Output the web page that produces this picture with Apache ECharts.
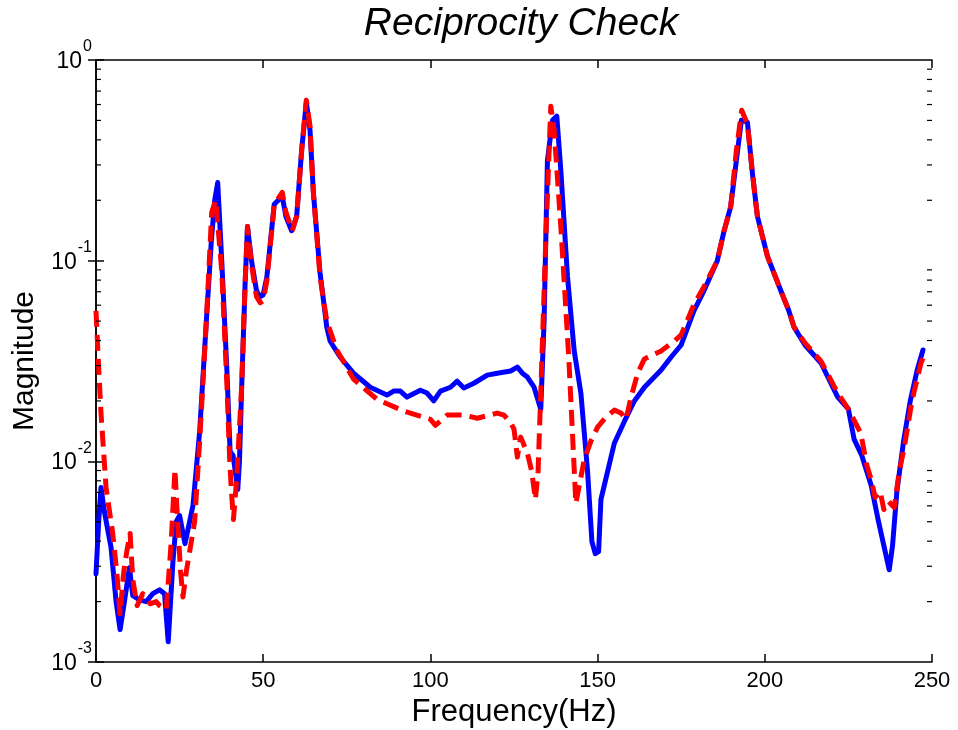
<!DOCTYPE html>
<html>
<head>
<meta charset="utf-8">
<script src="https://cdn.jsdelivr.net/npm/echarts@6/dist/echarts.min.js"></script>
<style>
  html, body { margin: 0; padding: 0; background: #fff; }
  #chart { width: 958px; height: 730px; }
</style>
</head>
<body>
<div id="chart"></div>
<script>
// Frequency response magnitudes, response measured in both directions
const freqBlue = [0, 0.8, 1.5, 2.5, 4.5, 6, 7.2, 8.5, 10, 11, 13, 15, 17, 19, 20.5, 21.6, 23, 24, 25, 26.6,
  28, 29, 31, 33, 34.5, 35.5, 36.4, 37.6, 39.1, 40.1, 41, 42.4, 42.9, 43.6, 44.6, 45.3, 46.5, 48, 49.1, 50,
  51.1, 53.3, 54.5, 55.7, 56.8, 58.5, 60, 61.5, 62.9, 64, 65, 67, 69, 70, 73, 77, 82, 87, 89, 91,
  93, 97, 99, 101, 103, 106, 108, 110, 113, 117, 120, 124, 126, 127.5, 129, 131, 133, 134, 135, 136.5,
  137.8, 139, 141, 143, 145, 147, 148.3, 149.3, 150.3, 151, 153, 155, 158, 161, 164, 169, 172, 175, 178.8, 181.8,
  185.8, 187.7, 189.8, 191.5, 193, 194.8, 196.3, 197.8, 200.8, 204.8, 207.2, 208.7, 212, 216.8, 221.8, 225, 226.7, 229, 231.8, 234,
  236, 237.2, 238.2, 239.5, 241.5, 243.5, 245.5, 247.3];
const magBlue = [2.75e-3, 5.01e-3, 7.41e-3, 5.62e-3, 3.72e-3, 2.00e-3, 1.45e-3, 2.00e-3, 2.95e-3, 2.14e-3, 2.04e-3, 2.00e-3, 2.19e-3, 2.29e-3, 2.19e-3, 1.26e-3, 3.16e-3, 5.01e-3, 5.37e-3, 3.89e-3,
  5.01e-3, 6.03e-3, 1.41e-2, 5.01e-2, 0.126, 0.200, 0.245, 0.100, 2.95e-2, 1.12e-2, 1.07e-2, 7.24e-3, 1.00e-2, 2.45e-2, 7.76e-2, 0.148, 0.100, 7.08e-2, 6.61e-2, 6.76e-2,
  8.32e-2, 0.191, 0.200, 0.209, 0.166, 0.141, 0.166, 0.355, 0.617, 0.447, 0.219, 8.71e-2, 4.68e-2, 3.98e-2, 3.31e-2, 2.75e-2, 2.34e-2, 2.14e-2, 2.24e-2, 2.24e-2,
  2.09e-2, 2.26e-2, 2.19e-2, 2.00e-2, 2.24e-2, 2.34e-2, 2.51e-2, 2.32e-2, 2.45e-2, 2.69e-2, 2.75e-2, 2.82e-2, 2.95e-2, 2.75e-2, 2.63e-2, 2.34e-2, 1.82e-2, 5.01e-2, 0.316, 0.501,
  0.525, 0.282, 8.32e-2, 3.55e-2, 2.19e-2, 8.91e-3, 3.98e-3, 3.47e-3, 3.55e-3, 6.46e-3, 8.91e-3, 1.23e-2, 1.58e-2, 2.00e-2, 2.34e-2, 2.85e-2, 3.31e-2, 3.80e-2, 5.62e-2, 7.08e-2,
  0.100, 0.138, 0.186, 0.316, 0.501, 0.490, 0.272, 0.166, 0.105, 7.08e-2, 5.62e-2, 4.68e-2, 3.80e-2, 3.09e-2, 2.09e-2, 1.82e-2, 1.29e-2, 1.07e-2, 7.59e-3, 5.01e-3,
  3.55e-3, 2.88e-3, 3.80e-3, 7.08e-3, 1.26e-2, 2.00e-2, 2.82e-2, 3.59e-2];

const freqRed = [0, 0.7, 1.5, 3, 5, 6.2, 7.2, 8.3, 9.2, 10.2, 11, 12.3, 14, 16.2, 18, 19, 21, 22.5, 23.6, 24.5,
  25.3, 26, 27, 28.5, 29.5, 31, 33, 34.6, 35.8, 37.6, 39.1, 40, 40.5, 41.1, 42, 43, 43.6, 44.6, 45.3, 46.5,
  48, 49.1, 50, 51.1, 53.3, 55.7, 56.8, 58.7, 60, 61.5, 62.9, 64, 65, 67, 69, 72, 77, 84, 92, 100,
  101.5, 105, 110, 114, 120, 122, 124, 125, 126, 127, 129, 130.3, 131.4, 132.2, 133, 134.5, 136, 137, 139, 141.4,
  143.5, 146, 148, 150, 152.5, 155, 157, 158.5, 160, 162, 164, 169, 173, 175, 178.8, 181.8, 185.8, 187.7, 189.8, 191.5,
  193.1, 194.8, 196.3, 197.8, 200.8, 204.8, 207.2, 208.7, 212, 216.8, 221.8, 225, 228.7, 230.5, 231.8, 233, 234.5, 235.6, 237, 238.7,
  240.2, 241.7, 244, 246.7, 247.5];
const magRed = [5.62e-2, 3.16e-2, 1.74e-2, 7.41e-3, 4.37e-3, 2.82e-3, 1.74e-3, 2.82e-3, 3.55e-3, 4.37e-3, 2.57e-3, 1.91e-3, 2.19e-3, 1.95e-3, 2.00e-3, 1.91e-3, 1.82e-3, 3.98e-3, 9.12e-3, 4.68e-3,
  2.82e-3, 2.11e-3, 2.82e-3, 3.98e-3, 5.01e-3, 1.26e-2, 5.01e-2, 0.174, 0.200, 8.91e-2, 2.51e-2, 1.00e-2, 7.08e-3, 5.13e-3, 7.94e-3, 1.58e-2, 2.45e-2, 7.76e-2, 0.148, 9.55e-2,
  6.61e-2, 6.17e-2, 6.31e-2, 7.94e-2, 0.191, 0.219, 0.174, 0.141, 0.166, 0.355, 0.631, 0.468, 0.219, 8.32e-2, 5.01e-2, 3.59e-2, 2.57e-2, 2.04e-2, 1.78e-2, 1.62e-2,
  1.51e-2, 1.70e-2, 1.70e-2, 1.64e-2, 1.74e-2, 1.70e-2, 1.55e-2, 1.45e-2, 1.05e-2, 1.32e-2, 1.10e-2, 8.91e-3, 6.46e-3, 8.91e-3, 2.19e-2, 0.126, 0.589, 0.447, 0.148, 3.24e-2,
  6.17e-3, 1.02e-2, 1.26e-2, 1.48e-2, 1.66e-2, 1.80e-2, 1.74e-2, 1.62e-2, 2.09e-2, 2.75e-2, 3.24e-2, 3.55e-2, 3.98e-2, 4.27e-2, 6.03e-2, 7.41e-2, 0.100, 0.138, 0.186, 0.355,
  0.562, 0.479, 0.272, 0.166, 0.105, 7.08e-2, 5.62e-2, 4.68e-2, 3.89e-2, 3.16e-2, 2.19e-2, 1.82e-2, 1.38e-2, 9.55e-3, 8.13e-3, 6.61e-3, 7.08e-3, 5.75e-3, 6.31e-3, 5.89e-3,
  8.91e-3, 1.17e-2, 2.00e-2, 3.09e-2, 3.31e-2];

// Axis setup
const freqMin = 0, freqMax = 250, freqStep = 50;
const magMin = 1e-3, magMax = 1;
const minorMantissas = [2, 3, 4, 5, 6, 7, 8, 9];
const minorDecades = [1e-3, 1e-2, 1e-1];

const minorTicks = [];
minorDecades.forEach(d => minorMantissas.forEach(m => minorTicks.push([0, m * d])));

const pair = (xs, ys) => xs.map((x, i) => [x, ys[i]]);

const FONT = '"Liberation Sans", Arial, Helvetica, sans-serif';

const chart = echarts.init(document.getElementById('chart'), null, { renderer: 'canvas' });
chart.setOption({
  animation: false,
  backgroundColor: '#ffffff',
  title: {
    text: 'Reciprocity Check',
    left: 516, top: 0, textAlign: 'center',
    textStyle: { fontFamily: FONT, fontStyle: 'italic', fontWeight: 'normal', fontSize: 39, color: '#000' }
  },
  grid: { left: 96, right: 26, top: 60, bottom: 68, containLabel: false, outerBoundsMode: 'none' },
  xAxis: [{
    type: 'value', min: freqMin, max: freqMax, interval: freqStep, position: 'bottom',
    name: 'Frequency(Hz)', nameLocation: 'middle', nameGap: 34,
    nameTextStyle: { fontFamily: FONT, fontSize: 31, color: '#000' },
    axisLine: { show: true, lineStyle: { color: '#000', width: 1.5 } },
    axisTick: { show: true, inside: true, length: 8, lineStyle: { color: '#000', width: 1.5 } },
    axisLabel: { fontFamily: FONT, fontSize: 22, color: '#000', margin: 8 },
    splitLine: { show: false }
  }, {
    type: 'value', min: freqMin, max: freqMax, interval: freqStep, position: 'top',
    axisLine: { show: true, lineStyle: { color: '#000', width: 1.5 } },
    axisTick: { show: true, inside: true, length: 8, lineStyle: { color: '#000', width: 1.5 } },
    axisLabel: { show: false }, splitLine: { show: false }
  }],
  yAxis: [{
    type: 'log', logBase: 10, min: magMin, max: magMax, position: 'left',
    name: 'Magnitude', nameLocation: 'middle', nameGap: 56, nameRotate: 90,
    nameTextStyle: { fontFamily: FONT, fontSize: 30, color: '#000' },
    axisLine: { show: true, lineStyle: { color: '#000', width: 1.5 } },
    axisTick: { show: true, inside: true, length: 8, lineStyle: { color: '#000', width: 1.5 } },
    axisLabel: {
      margin: 4,
      padding: [0, 0, 8, 0],
      formatter: v => '{b|10}{s|' + Math.round(Math.log10(v)) + '}',
      rich: {
        b: { fontFamily: FONT, fontSize: 23, color: '#000', lineHeight: 26, verticalAlign: 'bottom', padding: [0, 1, 0, 0] },
        s: { fontFamily: FONT, fontSize: 16, color: '#000', lineHeight: 34, verticalAlign: 'top' }
      }
    },
    splitLine: { show: false }
  }, {
    type: 'log', logBase: 10, min: magMin, max: magMax, position: 'right',
    axisLine: { show: true, lineStyle: { color: '#000', width: 1.5 } },
    axisTick: { show: true, inside: true, length: 8, lineStyle: { color: '#000', width: 1.5 } },
    axisLabel: { show: false }, splitLine: { show: false }
  }],
  series: [{
    // minor ticks at 2..9 of each decade, on both vertical edges
    type: 'custom', xAxisIndex: 0, yAxisIndex: 0, silent: true, clip: false, z: 5,
    data: minorTicks,
    renderItem: (params, api) => {
      const left = api.coord([freqMin, api.value(1)]);
      const right = api.coord([freqMax, api.value(1)]);
      const style = { stroke: '#000', lineWidth: 1.2 };
      return {
        type: 'group',
        children: [
          { type: 'line', shape: { x1: left[0], y1: left[1], x2: left[0] + 5, y2: left[1] }, style },
          { type: 'line', shape: { x1: right[0], y1: right[1], x2: right[0] - 5, y2: right[1] }, style }
        ]
      };
    }
  }, {
    type: 'line', data: pair(freqBlue, magBlue), showSymbol: false, z: 2,
    lineStyle: { color: '#0000ff', width: 5, join: 'round', cap: 'round' }
  }, {
    type: 'line', data: pair(freqRed, magRed), showSymbol: false, z: 3,
    lineStyle: { color: '#ff0000', width: 5, type: [16, 8], join: 'round' }
  }]
});
</script>
</body>
</html>
